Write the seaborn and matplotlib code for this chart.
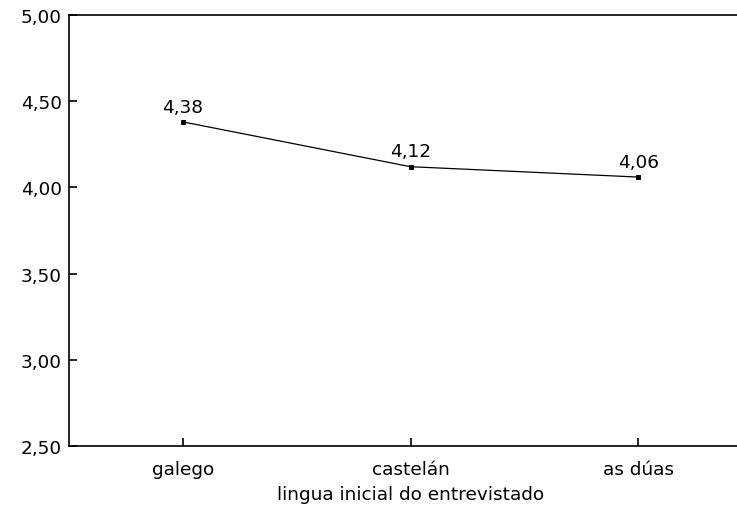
import matplotlib
matplotlib.use('Agg')
import matplotlib.pyplot as plt
import seaborn as sns

# Data
langs = ['galego', 'castelán', 'as dúas']
means = [4.38, 4.12, 4.06]
mean_labels = ['4,38', '4,12', '4,06']
yticks = [2.5, 3.0, 3.5, 4.0, 4.5, 5.0]
ytick_labels = ['2,50', '3,00', '3,50', '4,00', '4,50', '5,00']

sns.set_style('white')
plt.rcParams['font.family'] = ['DejaVu Sans']
plt.rcParams['font.size'] = 13
plt.rcParams['text.color'] = 'black'
plt.rcParams['axes.labelcolor'] = 'black'
plt.rcParams['xtick.direction'] = 'in'
plt.rcParams['ytick.direction'] = 'in'
plt.rcParams['xtick.bottom'] = True
plt.rcParams['ytick.left'] = True

fig = plt.figure(figsize=(7.37, 5.06), dpi=100)
ax = fig.add_axes([0.0936, 0.1166, 0.9268, 0.8518])

sns.pointplot(x=langs, y=means, color='black', marker='s', markersize=3,
              linewidth=0.9, errorbar=None, ax=ax)

for i, (v, lab) in enumerate(zip(means, mean_labels)):
    ax.annotate(lab, (i, v), xytext=(0, 11), textcoords='offset points',
                ha='center', va='center', fontsize=13.3, color='black')

ax.set_xlim(-0.5, 2.5)
ax.set_ylim(2.5, 5.0)
ax.set_yticks(yticks)
ax.set_yticklabels(ytick_labels)
ax.set_xlabel('lingua inicial do entrevistado', fontsize=13.3, labelpad=5,
              color='black')
ax.set_ylabel('')
ax.tick_params(axis='both', direction='in', length=6, width=1.2,
               colors='black', bottom=True, left=True)
ax.tick_params(axis='y', labelsize=13.3, pad=5)
ax.tick_params(axis='x', labelsize=13.3, pad=10)
ax.spines['right'].set_visible(False)
for s in ['left', 'top', 'bottom']:
    ax.spines[s].set_color('black')
    ax.spines[s].set_linewidth(1.2)

plt.savefig('out.png', dpi=100)
